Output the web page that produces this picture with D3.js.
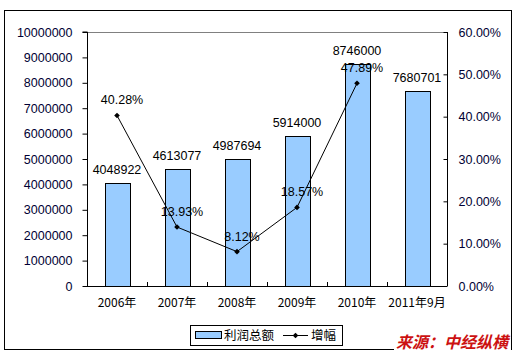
<!DOCTYPE html>
<html><head><meta charset="utf-8">
<script src="https://cdn.jsdelivr.net/npm/d3@7"></script>
<style>body{margin:0;background:#fff}svg{display:block}</style>
</head><body>
<svg id="c" width="518" height="355"></svg>
<script>
const categories = ["2006年","2007年","2008年","2009年","2010年","2011年9月"];
const profit = [4048922,4613077,4987694,5914000,8746000,7680701];
const growth = [0.4028,0.1393,0.0812,0.1857,0.4789,null];
const growthLabels = ["40.28%","13.93%","8.12%","18.57%","47.89%",null];
const leftTicks = [0,1000000,2000000,3000000,4000000,5000000,6000000,7000000,8000000,9000000,10000000];
const rightTicks = [0,0.1,0.2,0.3,0.4,0.5,0.6];
const legendLabels = ["利润总额","增幅"];
const sourceText = "来源：中经纵横";

const svg = d3.select("#c");
const L=87, R=447, T=32, B=286;
const numFont = "'Liberation Sans', Arial, sans-serif";
const cjkFont = "'Noto Sans CJK SC', sans-serif";

// outer border
svg.append("rect").attr("x",4.5).attr("y",10.5).attr("width",507).attr("height",339)
  .attr("fill","#fff").attr("stroke","#000").attr("stroke-width",1);

const xb = d3.scaleBand().domain(categories).range([L,R]);
const yL = d3.scaleLinear().domain([0,10000000]).range([B,T]);
const yR = d3.scaleLinear().domain([0,0.6]).range([B,T]);

// top gray border of plot
svg.append("line").attr("x1",L).attr("x2",R).attr("y1",T+0.5).attr("y2",T+0.5).attr("stroke","#808080");

// bars
svg.append("g").selectAll("rect").data(profit).join("rect")
  .attr("x",(d,i)=>Math.round(xb(categories[i])+xb.bandwidth()/2-12.5)+0.5)
  .attr("y",d=>Math.round(yL(d))+0.5)
  .attr("width",25)
  .attr("height",d=>B-Math.round(yL(d)))
  .attr("fill","#99ccff").attr("stroke","#000").attr("stroke-width",1);

// left axis
const gL = svg.append("g").attr("transform",`translate(${L+0.5},0)`)
  .call(d3.axisLeft(yL).tickValues(leftTicks).tickSize(5).tickPadding(10).tickFormat(d3.format("d")));
gL.selectAll("text").attr("font-family",numFont).attr("font-size","12.5px").attr("fill","#000033");
gL.select(".domain").attr("d",`M-5,${T}H0V${B}`).attr("stroke","#000");

// right axis
const gR = svg.append("g").attr("transform",`translate(${R+0.5},0)`)
  .call(d3.axisRight(yR).tickValues(rightTicks).tickSize(-4).tickPadding(11).tickFormat(d3.format(".2%")));
gR.selectAll("text").attr("font-family",numFont).attr("font-size","12.5px").attr("fill","#000033").attr("text-anchor","start");
gR.select(".domain").attr("d",`M0,${T}V${B}`).attr("stroke","#000");

// bottom axis
const gB = svg.append("g").attr("transform",`translate(0,${B+0.5})`)
  .call(d3.axisBottom(xb).tickSize(0).tickPadding(12));
gB.select(".domain").attr("d",`M${L},0H${R}`).attr("stroke","#000");
gB.selectAll("text").attr("font-family",cjkFont).attr("font-size","12px").attr("fill","#000");
// boundary ticks pointing up
svg.append("g").selectAll("line").data(categories.slice(1)).join("line")
  .attr("x1",d=>Math.round(xb(d))+0.5).attr("x2",d=>Math.round(xb(d))+0.5)
  .attr("y1",B).attr("y2",B-4).attr("stroke","#000");

// bar value labels
svg.append("g").selectAll("text").data(profit).join("text")
  .attr("x",(d,i)=>xb(categories[i])+xb.bandwidth()/2)
  .attr("y",d=>yL(d)-9)
  .attr("text-anchor","middle").attr("font-family",numFont).attr("font-size","12.5px")
  .attr("fill","#000").text(d=>d);

// growth line
const pts = growth.map((g,i)=>({g,i})).filter(p=>p.g!==null);
const cx = p=>xb(categories[p.i])+xb.bandwidth()/2;
svg.append("path").datum(pts)
  .attr("d",d3.line().x(cx).y(p=>yR(p.g)))
  .attr("fill","none").attr("stroke","#000").attr("stroke-width",1);
svg.append("g").selectAll("path").data(pts).join("path")
  .attr("transform",p=>`translate(${cx(p)},${yR(p.g)}) rotate(45)`)
  .attr("d",d3.symbol().type(d3.symbolSquare).size(16))
  .attr("fill","#000");
svg.append("g").selectAll("text").data(pts).join("text")
  .attr("x",p=>cx(p)+5).attr("y",p=>yR(p.g)-11)
  .attr("text-anchor","middle").attr("font-family",numFont).attr("font-size","12.5px")
  .attr("fill","#000").text(p=>growthLabels[p.i]);

// legend
const lg = svg.append("g");
lg.append("rect").attr("x",190.5).attr("y",325.5).attr("width",152).attr("height",20)
  .attr("fill","#fff").attr("stroke","#000");
lg.append("rect").attr("x",195.5).attr("y",331.5).attr("width",26).attr("height",7)
  .attr("fill","#99ccff").attr("stroke","#000");
lg.append("text").attr("x",224).attr("y",340).attr("font-family",cjkFont).attr("font-size","12.5px").text(legendLabels[0]);
lg.append("line").attr("x1",283).attr("x2",308).attr("y1",335.5).attr("y2",335.5).attr("stroke","#000");
lg.append("path").attr("transform","translate(295.5,335.5) rotate(45)").attr("d",d3.symbol().type(d3.symbolSquare).size(16)).attr("fill","#000");
lg.append("text").attr("x",311).attr("y",340).attr("font-family",cjkFont).attr("font-size","12.5px").text(legendLabels[1]);

// source watermark
svg.append("rect").attr("x",394).attr("y",333).attr("width",117).attr("height",17).attr("fill","#fff");
svg.append("text").attr("x",396).attr("y",347.5).attr("font-family",cjkFont).attr("font-size","16px")
  .attr("font-weight","bold").attr("font-style","italic").attr("fill","#cc1111").text(sourceText);
</script>
</body></html>
